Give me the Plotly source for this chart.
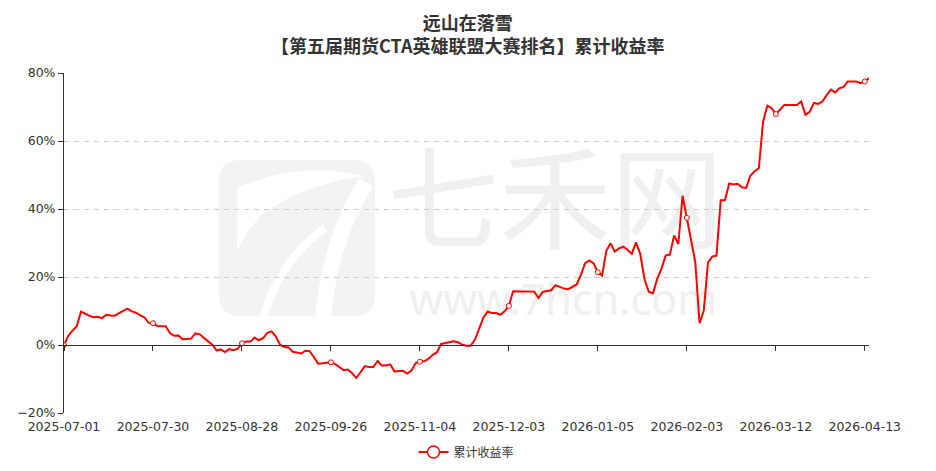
import pandas as pd
import plotly.graph_objects as go

# ---------------- data ----------------
title_line1 = "远山在落雪"
title_line2 = "【第五届期货CTA英雄联盟大赛排名】累计收益率"
series_name = "累计收益率"

holidays = [
    "2025-10-01", "2025-10-02", "2025-10-03", "2025-10-06", "2025-10-07", "2025-10-08",
    "2026-01-01", "2026-01-02",
    "2026-02-16", "2026-02-17", "2026-02-18", "2026-02-19", "2026-02-20", "2026-02-23",
    "2026-04-06",
]
dates = [d.strftime("%Y-%m-%d") for d in pd.bdate_range("2025-07-01", "2026-04-14")
         if d.strftime("%Y-%m-%d") not in holidays]

returns = [
    0.0, 2.7, 4.2, 5.5, 9.8, 9.1, 8.6, 8.2, 8.3, 7.9,
    8.9, 8.7, 8.6, 9.4, 10.1, 10.7, 9.9, 9.5, 8.7, 8.1,
    6.5, 6.4, 5.6, 5.5, 5.5, 3.5, 2.7, 2.8, 1.7, 1.8,
    1.9, 3.4, 3.2, 2.1, 1.1, 0.1, -1.6, -1.3, -2.1, -1.2,
    -1.5, -1.1, 0.5, 1.0, 1.0, 2.2, 1.4, 2.0, 3.6, 4.0,
    2.5, 0.1, -0.6, -0.7, -2.0, -2.2, -2.5, -1.7, -1.8, -3.6,
    -5.5, -5.4, -5.2, -5.1, -5.6, -6.5, -7.4, -7.2, -8.3, -9.7,
    -7.9, -6.2, -6.5, -6.5, -4.7, -6.0, -6.0, -5.7, -7.8, -7.8,
    -7.6, -8.4, -7.5, -5.3, -4.9, -4.8, -4.1, -2.9, -2.2, 0.3,
    0.6, 0.8, 1.1, 0.8, 0.1, -0.2, -0.2, 1.6, 5.0, 8.1,
    9.8, 9.4, 9.4, 8.9, 9.9, 11.5, 15.8, 15.8, 15.8, 15.8,
    15.8, 15.7, 13.8, 15.6, 15.9, 16.1, 17.6, 17.0, 16.6, 16.4,
    17.2, 17.8, 20.6, 24.1, 24.9, 24.0, 21.4, 20.4, 27.7, 29.9,
    27.5, 28.4, 28.9, 28.0, 26.8, 30.2, 26.8, 19.4, 15.7, 15.2,
    19.4, 22.4, 26.3, 26.6, 32.2, 29.7, 43.9, 37.4, 31.2, 24.3,
    6.4, 10.1, 24.3, 26.0, 26.3, 42.6, 42.6, 47.5, 47.2, 47.4,
    46.4, 46.2, 49.8, 51.1, 52.0, 65.7, 70.4, 69.7, 67.9, 69.2,
    70.6, 70.6, 70.6, 70.6, 71.6, 67.7, 68.6, 71.2, 70.9, 71.6,
    73.5, 75.1, 74.3, 75.5, 75.9, 77.5, 77.5, 77.5, 77.0, 77.5,
    78.5,
]

label_step = 21
tick_dates = dates[::label_step][:10]
marker_dates = dates[::label_step][:10]
marker_vals = returns[::label_step][:10]

y_min, y_max, y_step = -20, 80, 20

# ---------------- figure ----------------
RED = "#ff0000"
TXT = "#333333"
W, H = 936, 471
L, R, T, B = 64, 67, 73, 58

fig = go.Figure()

# invisible helper trace so the zero-line axis has data
fig.add_trace(go.Scatter(x=dates, y=returns, xaxis="x2", mode="lines",
                         line=dict(width=0), opacity=0, hoverinfo="skip", showlegend=False))

fig.add_trace(go.Scatter(x=dates, y=returns, mode="lines", name=series_name,
                         line=dict(color=RED, width=2), showlegend=False))
fig.add_trace(go.Scatter(x=marker_dates, y=marker_vals, mode="markers", name=series_name,
                         marker=dict(symbol="circle", size=5, color="white",
                                     line=dict(color=RED, width=1)),
                         showlegend=False))
# legend item
fig.add_trace(go.Scatter(x=[None], y=[None], mode="lines+markers", name=series_name,
                         line=dict(color=RED, width=2),
                         marker=dict(symbol="circle", size=12, color="white",
                                     line=dict(color=RED, width=1.5))))

# ---- watermark (drawn below gridlines and traces) ----
pw = W - L - R
ph = H - T - B


def px(v):
    return (v - L) / pw


def py(v):
    return (H - B - v) / ph


def path(cmds):
    out = []
    for c in cmds:
        if isinstance(c, str):
            out.append(c)
        else:
            out.append(f"{px(c[0]):.5f},{py(c[1]):.5f}")
    return " ".join(out)


WM = "#f2f2f2"
shapes = []
shapes.append(dict(type="path", xref="paper", yref="paper", layer="below",
                   path=path(["M", (241, 160), "L", (353, 160), "Q", (375, 160), (375, 182),
                              "L", (375, 294), "Q", (375, 316), (353, 316), "L", (241, 316),
                              "Q", (219, 316), (219, 294), "L", (219, 182), "Q", (219, 160), (241, 160), "Z"]),
                   fillcolor=WM, line=dict(width=0)))
shapes.append(dict(type="path", xref="paper", yref="paper", layer="below",
                   path=path(["M", (237, 188), "Q", (300, 160), (365, 176), "Q", (300, 185), (262, 215),
                              "Q", (245, 232), (237, 252), "Z"]),
                   fillcolor="white", line=dict(width=0)))
shapes.append(dict(type="path", xref="paper", yref="paper", layer="below",
                   path=path(["M", (366, 182), "Q", (330, 240), (323, 318)]),
                   line=dict(color="white", width=16)))
shapes.append(dict(type="path", xref="paper", yref="paper", layer="below",
                   path=path(["M", (263, 318), "Q", (280, 260), (325, 228)]),
                   line=dict(color="white", width=8)))
shapes.append(dict(type="rect", xref="paper", yref="paper", layer="below",
                   x0=px(390), x1=px(720), y0=py(268), y1=py(152),
                   line=dict(width=0),
                   label=dict(text="七禾网", textposition="middle center",
                              font=dict(family="Noto Sans CJK SC", size=112, color="#efefef"))))
shapes.append(dict(type="rect", xref="paper", yref="paper", layer="below",
                   x0=px(400), x1=px(727), y0=py(326), y1=py(276),
                   line=dict(width=0),
                   label=dict(text="www.7hcn.com", textposition="middle center",
                              font=dict(family="Noto Sans", size=43, color="#efefef"))))

tick_font = dict(family="DejaVu Sans", size=12.5, color=TXT)
title_font = dict(family="Noto Sans CJK SC", size=18, color=TXT)

annotations = [
    dict(text=f"<b>{title_line1}<br>{title_line2}</b>", xref="paper", yref="paper",
         x=px(W / 2), y=py(33.5), xanchor="center", yanchor="middle",
         showarrow=False, font=title_font, borderpad=0),
]

fig.update_layout(
    width=W, height=H,
    margin=dict(l=L, r=R, t=T, b=B, pad=0, autoexpand=False),
    paper_bgcolor="white", plot_bgcolor="white",
    xaxis=dict(type="category", categoryorder="array", categoryarray=dates,
               range=[0, len(dates) - 1], tickmode="array", tickvals=tick_dates,
               showgrid=False, showline=False, zeroline=False, ticks="",
               ticklabelstandoff=4,
               tickfont=tick_font, fixedrange=True, automargin=False),
    xaxis2=dict(type="category", categoryorder="array", categoryarray=dates,
                range=[0, len(dates) - 1], overlaying="x", anchor="free",
                position=(0 - y_min) / (y_max - y_min),
                tickmode="array", tickvals=tick_dates, showticklabels=False,
                showline=True, linecolor=TXT, linewidth=1,
                ticks="outside", ticklen=5, tickcolor=TXT, tickwidth=1,
                showgrid=False, zeroline=False, automargin=False),
    yaxis=dict(range=[y_min, y_max], dtick=y_step, tick0=0, ticksuffix="%",
               showgrid=True, gridcolor="#cccccc", griddash="5px,5px", gridwidth=1,
               zeroline=False, showline=True, linecolor=TXT, linewidth=1,
               ticks="outside", ticklen=5, tickcolor=TXT,
               tickfont=tick_font, automargin=False),
    legend=dict(orientation="h", x=0.5, xanchor="center", xref="paper",
                y=1 - 452 / H, yref="container", yanchor="middle",
                font=dict(family="Noto Sans CJK SC", size=12, color=TXT),
                itemwidth=30, bgcolor="rgba(0,0,0,0)"),
    shapes=shapes,
    annotations=annotations,
    showlegend=True,
)

fig.write_html("out.html", config={"displayModeBar": False},
               post_script="document.body.style.margin='0';document.body.style.padding='0';")
